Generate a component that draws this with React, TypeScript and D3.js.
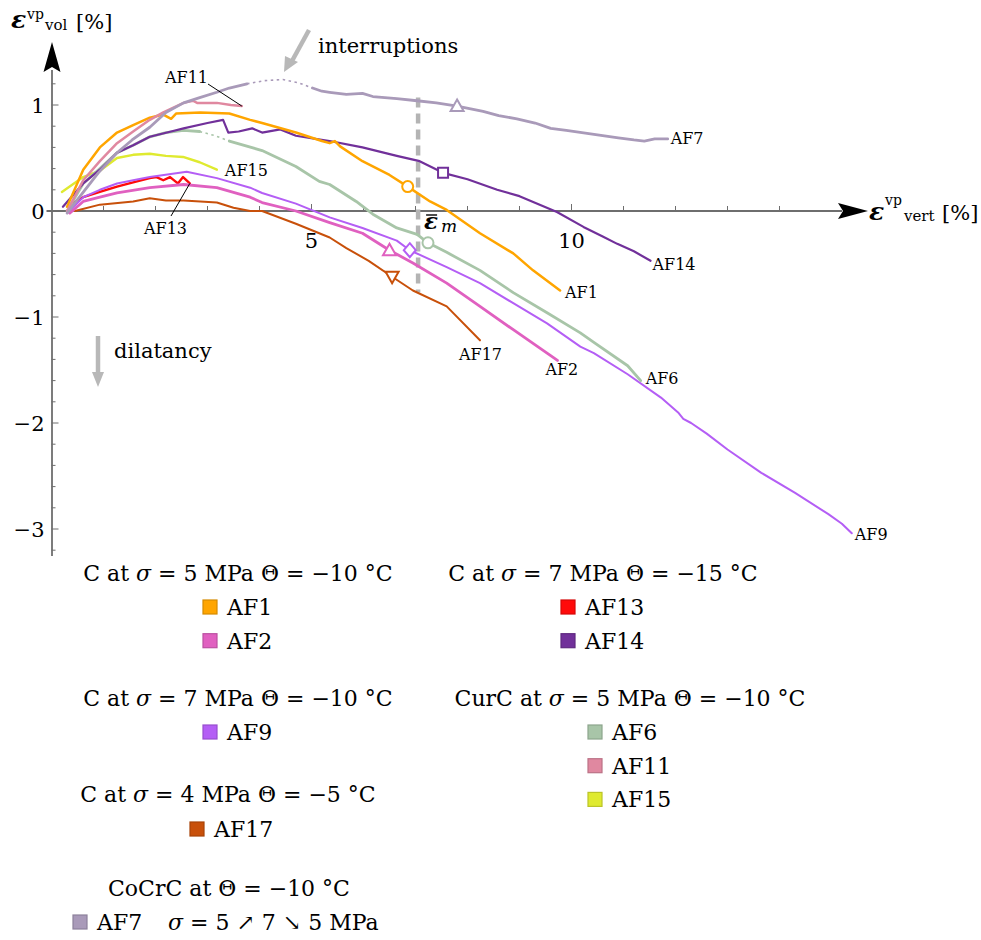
import React from 'react';
import * as d3 from 'd3';

type Pt = [number, number];

// ---- measured curves: [ε_vert (%), ε_vol (%)] ----
const af1: Pt[] = [[0.3,0.04],[0.61,0.39],[0.93,0.6],[1.26,0.74],[1.57,0.81],[1.89,0.88],[2.15,0.91],[2.3,0.87],[2.4,0.92],[2.86,0.93],[3.42,0.92],[3.82,0.86],[4.05,0.83],[4.7,0.74],[5.2,0.66],[5.35,0.64],[5.45,0.66],[5.55,0.61],[5.98,0.47],[6.5,0.34],[6.85,0.23],[7.28,0.09],[7.6,0.01],[8.24,-0.21],[8.88,-0.4],[9.26,-0.56],[9.78,-0.75]];
const af2: Pt[] = [[0.35,-0.02],[0.61,0.09],[0.93,0.13],[1.26,0.17],[1.89,0.22],[2.54,0.25],[3.18,0.22],[3.82,0.13],[4.05,0.08],[4.7,0.0],[5.35,-0.11],[5.98,-0.21],[6.5,-0.37],[6.95,-0.49],[7.6,-0.68],[8.24,-0.9],[8.88,-1.12],[9.53,-1.34],[9.73,-1.41]];
const af9: Pt[] = [[0.3,-0.02],[0.61,0.13],[0.93,0.2],[1.26,0.26],[1.57,0.29],[1.89,0.32],[2.6,0.37],[3.18,0.31],[3.82,0.22],[4.05,0.17],[4.7,0.07],[5.35,-0.06],[5.98,-0.16],[6.64,-0.28],[6.89,-0.37],[7.6,-0.53],[8.24,-0.68],[8.88,-0.87],[9.53,-1.06],[10.17,-1.28],[10.43,-1.34],[11.08,-1.54],[11.72,-1.76],[12.05,-1.9],[12.15,-1.96],[12.3,-2.0],[12.6,-2.1],[13.0,-2.25],[13.65,-2.47],[14.3,-2.66],[14.94,-2.86],[15.2,-2.95],[15.39,-3.04]];
const af17: Pt[] = [[0.45,0.0],[0.93,0.06],[1.57,0.09],[1.89,0.12],[2.2,0.1],[2.54,0.1],[3.18,0.08],[3.5,0.03],[3.82,0.0],[4.05,0.0],[4.7,-0.12],[5.35,-0.25],[5.67,-0.35],[6.1,-0.47],[6.55,-0.62],[6.95,-0.75],[7.6,-0.9],[8.24,-1.22]];
const af13: Pt[] = [[0.4,0.07],[0.61,0.13],[0.93,0.18],[1.26,0.23],[1.57,0.27],[1.89,0.31],[2.02,0.32],[2.15,0.29],[2.28,0.32],[2.43,0.26],[2.53,0.32],[2.66,0.26]];
const af14: Pt[] = [[0.22,0.04],[0.61,0.26],[0.93,0.39],[1.26,0.55],[1.57,0.62],[1.89,0.7],[2.3,0.75],[2.54,0.78],[3.0,0.83],[3.3,0.86],[3.4,0.74],[3.6,0.75],[3.86,0.78],[4.05,0.74],[4.4,0.77],[4.7,0.71],[5.35,0.66],[5.98,0.6],[6.64,0.52],[7.08,0.47],[7.53,0.36],[8.0,0.3],[8.57,0.2],[9.0,0.14],[9.72,-0.01],[10.23,-0.15],[10.6,-0.24],[10.88,-0.31],[11.2,-0.38],[11.52,-0.47]];
const af6A: Pt[] = [[0.3,0.0],[0.61,0.26],[0.93,0.4],[1.26,0.55],[1.57,0.62],[1.89,0.7],[2.2,0.74],[2.54,0.76],[2.85,0.75]];
const af6Gap: Pt[] = [[2.85,0.75],[3.15,0.71],[3.42,0.66]];
const af6B: Pt[] = [[3.42,0.66],[4.05,0.57],[4.7,0.42],[5.15,0.28],[5.35,0.25],[5.86,0.09],[6.18,-0.03],[6.64,-0.16],[7.03,-0.22],[7.24,-0.3],[7.6,-0.39],[8.24,-0.56],[8.88,-0.77],[9.53,-0.96],[10.17,-1.15],[10.43,-1.24],[11.08,-1.46],[11.33,-1.6]];
const af11: Pt[] = [[0.3,0.0],[0.61,0.29],[0.93,0.47],[1.26,0.64],[1.57,0.75],[1.89,0.86],[2.15,0.93],[2.54,1.02],[2.72,1.04],[2.8,1.02],[3.18,1.02],[3.45,1.0],[3.66,0.99]];
const af15: Pt[] = [[0.2,0.18],[0.61,0.32],[0.93,0.38],[1.26,0.5],[1.57,0.53],[1.89,0.54],[2.2,0.52],[2.53,0.51],[2.85,0.46],[3.18,0.39]];
const af7A: Pt[] = [[0.3,-0.02],[0.6,0.17],[0.9,0.36],[1.26,0.55],[1.55,0.67],[1.89,0.79],[2.2,0.93],[2.54,1.02],[2.85,1.07],[3.18,1.12],[3.42,1.16],[3.76,1.2]];
const af7Gap: Pt[] = [[3.76,1.2],[4.1,1.23],[4.45,1.24],[4.75,1.21],[5.02,1.16]];
const af7B: Pt[] = [[5.02,1.16],[5.2,1.13],[5.35,1.12],[5.67,1.1],[5.98,1.11],[6.18,1.08],[6.64,1.06],[7.03,1.04],[7.4,1.02],[7.8,0.99],[8.3,0.94],[8.6,0.9],[8.95,0.87],[9.3,0.83],[9.6,0.78],[9.9,0.76],[10.2,0.74],[10.6,0.71],[10.9,0.69],[11.2,0.67],[11.4,0.66],[11.6,0.68],[11.85,0.68]];

// mean strain at the characteristic point
const epsMean = 7.05;
const epsMeanSpan: [number, number] = [1.07, -0.77];

// characteristic points marked on the curves
const markerNames = ['AF1', 'AF14', 'AF7', 'AF6', 'AF9', 'AF2', 'AF17'];
const markerX = [6.85, 7.53, 7.8, 7.24, 6.89, 6.5, 6.55];
const markerY = [0.23, 0.36, 0.99, -0.3, -0.37, -0.37, -0.62];
const markerShapes = ['circle', 'square', 'triangle', 'circle', 'diamond', 'triangle', 'triangleDown'];

// axis ticks
const yTickValues = d3.range(-16, 7).map((i) => i * 0.2);
const yTickLabels = [1, 0, -1, -2, -3];
const xTickValues = d3.range(1, 15);
const xTickLabels = [5, 10];

const colors: Record<string, string> = {
  AF1: '#ffa500',
  AF2: '#e060c0',
  AF9: '#b45ef5',
  AF17: '#c8500a',
  AF13: '#ff0a0a',
  AF14: '#71309a',
  AF6: '#a8c5a8',
  AF11: '#e088a0',
  AF15: '#dfea30',
  AF7: '#a99ab9',
};

interface Series {
  name: string;
  solid: Pt[][];
  dotted: Pt[][];
  width: number;
}

const series: Series[] = [
  { name: 'AF15', solid: [af15], dotted: [], width: 2.4 },
  { name: 'AF13', solid: [af13], dotted: [], width: 2.4 },
  { name: 'AF17', solid: [af17], dotted: [], width: 2.0 },
  { name: 'AF2', solid: [af2], dotted: [], width: 2.8 },
  { name: 'AF9', solid: [af9], dotted: [], width: 2.0 },
  { name: 'AF6', solid: [af6A, af6B], dotted: [af6Gap], width: 2.8 },
  { name: 'AF14', solid: [af14], dotted: [], width: 2.2 },
  { name: 'AF1', solid: [af1], dotted: [], width: 2.5 },
  { name: 'AF11', solid: [af11], dotted: [], width: 2.5 },
  { name: 'AF7', solid: [af7A, af7B], dotted: [af7Gap], width: 2.8 },
];

// end-of-curve name tags: offset from the last point (px)
const endTags: Record<string, [number, number]> = {
  AF7: [3, 5],
  AF14: [2, 9],
  AF1: [5, 7],
  AF6: [5, 3],
  AF17: [-21, 20],
  AF2: [-12, 15],
  AF9: [3, 7],
  AF15: [8, 6],
};

// legend blocks
const legendTitles = [
  ['C at ', 'σ', ' = 5 MPa Θ = −10 °C'],
  ['C at ', 'σ', ' = 7 MPa Θ = −10 °C'],
  ['C at ', 'σ', ' = 4 MPa Θ = −5 °C'],
  ['C at ', 'σ', ' = 7 MPa Θ = −15 °C'],
  ['CurC at ', 'σ', ' = 5 MPa Θ = −10 °C'],
  ['CoCrC at Θ = −10 °C', '', ''],
];
const legendItems = [['AF1', 'AF2'], ['AF9'], ['AF17'], ['AF13', 'AF14'], ['AF6', 'AF11', 'AF15'], ['AF7']];
const af7Loading = ['σ', ' = 5 ↗ 7 ↘ 5 MPa'];

const W = 981;
const H = 940;
const serif = "'DejaVu Serif', 'Liberation Serif', serif";

const legendLayout = [
  { cx: 238, ty: 581, bx: 203, y0: 607 },
  { cx: 238, ty: 706, bx: 203, y0: 732 },
  { cx: 228, ty: 802, bx: 190, y0: 829 },
  { cx: 603, ty: 581, bx: 561, y0: 607 },
  { cx: 630, ty: 706, bx: 588, y0: 732 },
  { cx: 229, ty: 896, bx: 73, y0: 922 },
];

function symbolPath(shape: string): string {
  switch (shape) {
    case 'circle':
      return d3.symbol(d3.symbolCircle, 95)()!;
    case 'square':
      return d3.symbol(d3.symbolSquare, 100)()!;
    case 'diamond':
      return 'M0,-7L6,0L0,7L-6,0Z';
    case 'triangle':
      return 'M0,-6.5L6.5,5L-6.5,5Z';
    case 'triangleDown':
      return 'M0,6.5L6.5,-5L-6.5,-5Z';
    default:
      return '';
  }
}

export default function App() {
  const x = d3.scaleLinear().domain([0, 10]).range([51.5, 571.5]);
  const y = d3.scaleLinear().domain([0, 1]).range([211, 105]);
  const line = d3
    .line<Pt>()
    .x((d) => x(d[0]))
    .y((d) => y(d[1]));

  const ax0 = x(0);
  const ay0 = y(0);
  const axisColor = '#6e6e6e';
  const lastOf = (s: Series) => {
    const p = s.solid[s.solid.length - 1];
    return p[p.length - 1];
  };
  const byName = Object.fromEntries(series.map((s) => [s.name, s]));
  const em = x(epsMean);

  return (
    <svg
      width={W}
      height={H}
      style={{ position: 'absolute', left: 0, top: 0, background: '#fff' }}
      fontFamily={serif}
    >
      <rect width={W} height={H} fill="#fff" />

      {/* axes */}
      <line x1={ax0 - 5} x2={842} y1={ay0} y2={ay0} stroke={axisColor} strokeWidth={1.8} />
      <line x1={ax0 + 0.5} x2={ax0 + 0.5} y1={556} y2={70} stroke={axisColor} strokeWidth={1.8} />
      <path d={`M868,${ay0} L838,${ay0 - 8} L843,${ay0} L838,${ay0 + 8} Z`} fill="#000" />
      <path d={`M${ax0 + 0.5},42 L${ax0 - 8},72 L${ax0 + 0.5},67 L${ax0 + 9},72 Z`} fill="#000" />

      {xTickValues.map((v) => (
        <line key={`xt${v}`} x1={x(v)} x2={x(v)} y1={ay0} y2={ay0 - (v % 5 === 0 ? 7 : 5)} stroke={axisColor} strokeWidth={1} />
      ))}
      {yTickValues.map((v, i) => {
        const major = Math.abs(v - Math.round(v)) < 1e-6;
        return (
          <line key={`yt${i}`} x1={ax0} x2={ax0 + (major ? 7 : 4)} y1={y(v)} y2={y(v)} stroke={axisColor} strokeWidth={1} />
        );
      })}
      {xTickLabels.map((v) => (
        <text key={`xl${v}`} x={x(v)} y={ay0 + 37} fontSize={21} textAnchor="middle">
          {String(v)}
        </text>
      ))}
      {yTickLabels.map((v) => (
        <text key={`yl${v}`} x={ax0 - 7} y={y(v) + 8} fontSize={21} textAnchor="end">
          {v < 0 ? `−${-v}` : String(v)}
        </text>
      ))}

      {/* axis titles */}
      <text x={11} y={28} fontSize={25} fontStyle="italic" fontWeight="bold">ε</text>
      <text x={27} y={19} fontSize={14}>vp</text>
      <text x={45} y={30} fontSize={15}>vol</text>
      <text x={76} y={29} fontSize={21}>[%]</text>

      <text x={869} y={220} fontSize={25} fontStyle="italic" fontWeight="bold">ε</text>
      <text x={885} y={205} fontSize={14}>vp</text>
      <text x={904} y={221} fontSize={15}>vert</text>
      <text x={942} y={220} fontSize={21}>[%]</text>

      {/* annotations */}
      <line x1={em} x2={em} y1={y(epsMeanSpan[0])} y2={y(epsMeanSpan[1])} stroke="#b4b4b4" strokeWidth={4.5} strokeDasharray="10,6" />
      <text x={em + 6} y={229} fontSize={23} fontStyle="italic" fontWeight="bold">ε</text>
      <line x1={em + 8} x2={em + 19} y1={215} y2={215} stroke="#000" strokeWidth={1.4} />
      <text x={em + 23} y={232} fontSize={17} fontStyle="italic">m</text>

      <path d="M309,30 L292,61" stroke="#b8b8b8" strokeWidth={4.5} />
      <path d="M284,72 L285,56 L298,62 Z" fill="#b8b8b8" />
      <text x={318} y={53} fontSize={21}>interruptions</text>

      <line x1={98} x2={98} y1={336} y2={374} stroke="#b8b8b8" strokeWidth={4.5} />
      <path d="M98,387 L92,372 L104,372 Z" fill="#b8b8b8" />
      <text x={114} y={358} fontSize={21}>dilatancy</text>

      {/* curves */}
      {series.map((s) => (
        <g key={s.name}>
          {s.dotted.map((p, i) => (
            <path key={`d${i}`} d={line(p)!} fill="none" stroke={colors[s.name]} strokeWidth={1.6} strokeDasharray="2.5,3.5" />
          ))}
          {s.solid.map((p, i) => (
            <path key={`s${i}`} d={line(p)!} fill="none" stroke={colors[s.name]} strokeWidth={s.width} strokeLinejoin="round" strokeLinecap="round" />
          ))}
        </g>
      ))}

      {/* characteristic point markers */}
      {markerNames.map((n, i) => (
        <path
          key={`m${n}`}
          d={symbolPath(markerShapes[i])}
          transform={`translate(${x(markerX[i])},${y(markerY[i])})`}
          fill="#fff"
          stroke={colors[n]}
          strokeWidth={2}
        />
      ))}

      {/* curve name tags */}
      {Object.entries(endTags).map(([n, off]) => {
        const e = lastOf(byName[n]);
        return (
          <text key={`t${n}`} x={x(e[0]) + off[0]} y={y(e[1]) + off[1]} fontSize={16}>
            {n}
          </text>
        );
      })}
      {(() => {
        const e11 = lastOf(byName['AF11']);
        const e13 = lastOf(byName['AF13']);
        return (
          <g>
            <text x={165} y={83} fontSize={16}>AF11</text>
            <line x1={208} y1={84} x2={x(e11[0])} y2={y(e11[1])} stroke="#000" strokeWidth={1} />
            <text x={144} y={234} fontSize={16}>AF13</text>
            <line x1={171} y1={216} x2={x(e13[0])} y2={y(e13[1])} stroke="#000" strokeWidth={1} />
          </g>
        );
      })()}

      {/* legend */}
      {legendTitles.map((t, gi) => {
        const L = legendLayout[gi];
        const items = legendItems[gi];
        return (
          <g key={`lg${gi}`}>
            <text x={L.cx} y={L.ty} fontSize={22} textAnchor="middle">
              {t[0]}
              {t[1] && <tspan fontStyle="italic">{t[1]}</tspan>}
              {t[2]}
            </text>
            {items.map((n, k) => {
              const cy = L.y0 + k * 33.7;
              const c = colors[n];
              return (
                <g key={n}>
                  <rect x={L.bx} y={cy - 7} width={14} height={14} fill={c} stroke={d3.color(c)!.darker(0.5).formatHex()} strokeWidth={1.2} />
                  <text x={L.bx + 24} y={cy + 8} fontSize={22}>
                    {n}
                  </text>
                  {n === 'AF7' && (
                    <text x={168} y={cy + 8} fontSize={22}>
                      <tspan fontStyle="italic">{af7Loading[0]}</tspan>
                      {af7Loading[1]}
                    </text>
                  )}
                </g>
              );
            })}
          </g>
        );
      })}
    </svg>
  );
}
